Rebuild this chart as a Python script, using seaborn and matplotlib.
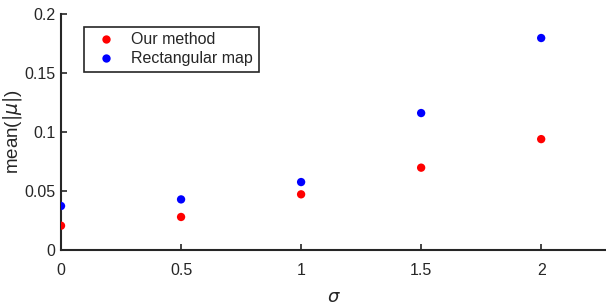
import pandas as pd
import matplotlib
matplotlib.use('Agg')
import matplotlib.pyplot as plt
import seaborn as sns

# values
sigma = [0, 0.5, 1, 1.5, 2]
our_method = [0.0206, 0.0280, 0.0472, 0.0698, 0.0940]
rect_map = [0.0373, 0.0429, 0.0576, 0.1161, 0.1797]
labels = ['Our method', 'Rectangular map']

df = pd.DataFrame({
    'sigma': sigma * 2,
    'val': our_method + rect_map,
    'method': [labels[0]] * len(sigma) + [labels[1]] * len(sigma),
})

sns.set_style('ticks')
plt.rcParams['font.family'] = ['Liberation Sans', 'DejaVu Sans']
plt.rcParams['mathtext.fontset'] = 'dejavusans'

fig = plt.figure(figsize=(6.06, 3.06), dpi=100)
ax = fig.add_axes([0.1007, 0.183, 0.8993, 0.771])
sns.scatterplot(data=df, x='sigma', y='val', hue='method', palette=['#ff0000', '#0000ff'],
                s=36, edgecolor='none', ax=ax, zorder=3)

ax.set_xlim(0, 2.27)
ax.set_ylim(0, 0.2)
ax.set_xticks([0, 0.5, 1, 1.5, 2])
ax.set_xticklabels(['0', '0.5', '1', '1.5', '2'])
ax.set_yticks([0, 0.05, 0.1, 0.15, 0.2])
ax.set_yticklabels(['0', '0.05', '0.1', '0.15', '0.2'])
ax.tick_params(direction='in', length=4, width=1.2, labelsize=11.5, colors='#262626')
ax.tick_params(axis='x', pad=9)
ax.tick_params(axis='y', pad=4)
for s in ['top', 'right']:
    ax.spines[s].set_visible(False)
for s in ['left', 'bottom']:
    ax.spines[s].set_linewidth(1.5)
    ax.spines[s].set_color('#262626')

ax.set_xlabel(r'$\sigma$', fontsize=13, labelpad=8)
ax.set_ylabel(r'mean($|\mu|$)', fontsize=13.5)
ax.yaxis.set_label_coords(-0.068, 0.5)

leg = ax.legend(loc='upper left', bbox_to_anchor=(0.028, 0.98), fontsize=11.5, frameon=True,
                fancybox=False, edgecolor='#262626', framealpha=1, handletextpad=0.6,
                borderpad=0.35, labelspacing=0.25, markerscale=1.0)
leg.get_frame().set_linewidth(1.2)

fig.savefig('out.png', dpi=100)
